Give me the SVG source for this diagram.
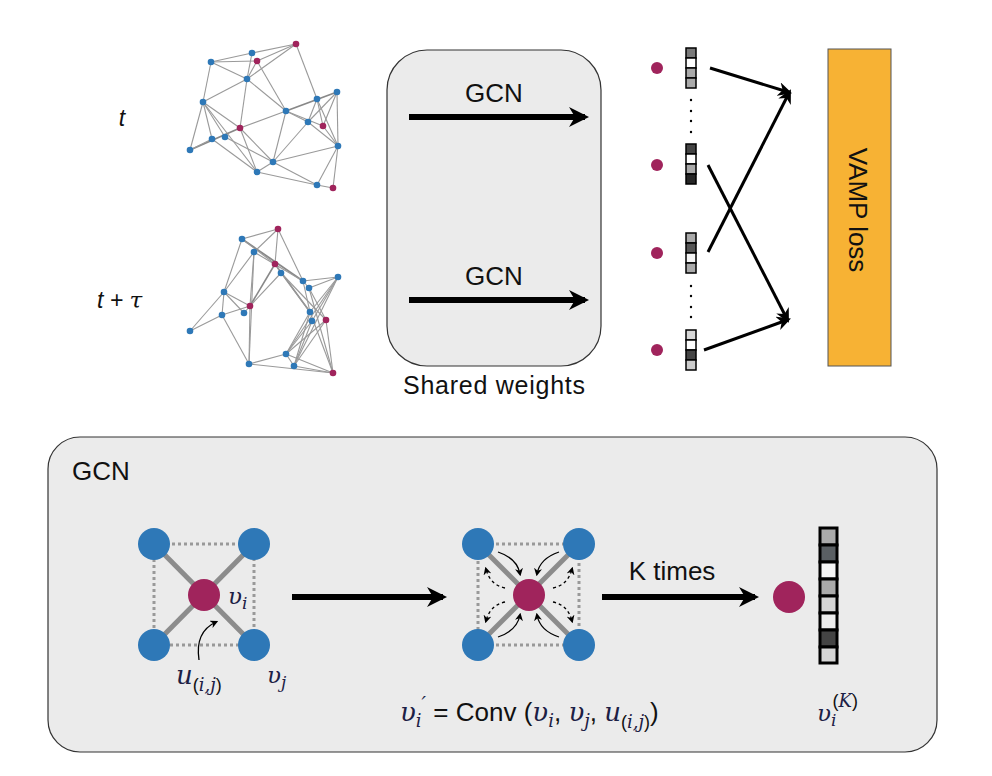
<svg xmlns="http://www.w3.org/2000/svg" width="992" height="776" viewBox="0 0 992 776">
<defs>
<style>
.e{stroke:#9a9a9a;stroke-width:1.1;fill:none}
.b{fill:#2e78b7}
.m{fill:#a0245c}
.t{font-family:"Liberation Sans",Arial,sans-serif;fill:#111}
.math{font-family:"DejaVu Serif","Liberation Serif",serif;font-style:italic;fill:#1c2045}
.arr{stroke:#000;stroke-width:3;fill:none}
.big{stroke:#000;stroke-width:6;fill:none}
.cell{stroke:#000;stroke-width:1.5}
.cellk{stroke:#000;stroke-width:3}
</style>
<marker id="ah2" viewBox="0 0 10 10" refX="8" refY="5" markerWidth="20" markerHeight="20" orient="auto" markerUnits="userSpaceOnUse">
<path d="M0,0 L10,5 L0,10 L3,5 z" fill="#000"/>
</marker>
<marker id="ah3" viewBox="0 0 10 10" refX="7" refY="5" markerWidth="14" markerHeight="14" orient="auto" markerUnits="userSpaceOnUse">
<path d="M0,0 L10,5 L0,10 L3,5 z" fill="#000"/>
</marker>
<marker id="ahs" viewBox="0 0 10 10" refX="7" refY="5" markerWidth="8" markerHeight="8" orient="auto" markerUnits="userSpaceOnUse">
<path d="M0,0 L10,5 L0,10 L3,5 z" fill="#000"/>
</marker>
</defs>
<rect width="992" height="776" fill="#fff"/>

<!-- Graph t -->
<g id="graph-t">
<g class="e">
<line x1="211" y1="62" x2="252" y2="53"/><line x1="252" y1="53" x2="296" y2="44"/>
<line x1="211" y1="62" x2="257" y2="61"/><line x1="257" y1="61" x2="296" y2="44"/>
<line x1="247" y1="79" x2="296" y2="44"/><line x1="247" y1="79" x2="252" y2="53"/>
<line x1="247" y1="79" x2="257" y2="61"/><line x1="211" y1="62" x2="247" y2="79"/>
<line x1="257" y1="61" x2="286" y2="111"/><line x1="296" y1="44" x2="317" y2="99"/>
<line x1="211" y1="62" x2="203" y2="102"/><line x1="247" y1="79" x2="203" y2="102"/>
<line x1="247" y1="79" x2="240" y2="128"/><line x1="247" y1="79" x2="286" y2="111"/>
<line x1="203" y1="102" x2="190" y2="150"/><line x1="203" y1="102" x2="212" y2="139"/>
<line x1="203" y1="102" x2="225" y2="137"/><line x1="203" y1="102" x2="240" y2="128"/>
<line x1="203" y1="102" x2="257" y2="172"/>
<line x1="190" y1="150" x2="240" y2="128" style="stroke-width:1.8;stroke:#888"/>
<line x1="190" y1="150" x2="212" y2="139"/>
<line x1="240" y1="128" x2="286" y2="111"/><line x1="240" y1="128" x2="257" y2="172"/>
<line x1="240" y1="128" x2="273" y2="162"/><line x1="212" y1="139" x2="257" y2="172"/>
<line x1="225" y1="137" x2="273" y2="162"/><line x1="286" y1="111" x2="273" y2="162"/>
<line x1="286" y1="111" x2="337" y2="92" style="stroke-width:1.8;stroke:#888"/>
<line x1="286" y1="111" x2="323" y2="126"/><line x1="286" y1="111" x2="308" y2="122"/>
<line x1="317" y1="99" x2="308" y2="122"/><line x1="317" y1="99" x2="323" y2="126"/>
<line x1="317" y1="99" x2="338" y2="146"/><line x1="337" y1="92" x2="308" y2="122"/>
<line x1="337" y1="92" x2="323" y2="126"/><line x1="337" y1="92" x2="338" y2="146"/>
<line x1="308" y1="122" x2="273" y2="162"/><line x1="308" y1="122" x2="338" y2="146"/>
<line x1="323" y1="126" x2="338" y2="146"/><line x1="338" y1="146" x2="273" y2="162"/>
<line x1="338" y1="146" x2="317" y2="185"/><line x1="338" y1="146" x2="333" y2="188"/>
<line x1="257" y1="172" x2="317" y2="185"/><line x1="273" y1="162" x2="317" y2="185"/>
<line x1="317" y1="185" x2="333" y2="188"/><line x1="257" y1="172" x2="273" y2="162"/>
</g>
<circle class="m" cx="296" cy="44" r="3.3"/><circle class="b" cx="252" cy="53" r="3.3"/>
<circle class="m" cx="257" cy="61" r="3.3"/><circle class="b" cx="211" cy="62" r="3.3"/>
<circle class="b" cx="247" cy="79" r="3.3"/><circle class="b" cx="203" cy="102" r="3.3"/>
<circle class="b" cx="317" cy="99" r="3.3"/><circle class="b" cx="337" cy="92" r="3.3"/>
<circle class="b" cx="286" cy="111" r="3.3"/><circle class="b" cx="308" cy="122" r="3.3"/>
<circle class="m" cx="323" cy="126" r="3.3"/><circle class="m" cx="240" cy="128" r="3.3"/>
<circle class="b" cx="212" cy="139" r="3.3"/><circle class="b" cx="225" cy="137" r="3.3"/>
<circle class="b" cx="190" cy="150" r="3.3"/><circle class="b" cx="338" cy="146" r="3.3"/>
<circle class="b" cx="273" cy="162" r="3.3"/><circle class="b" cx="257" cy="172" r="3.3"/>
<circle class="b" cx="317" cy="185" r="3.3"/><circle class="m" cx="333" cy="188" r="3.3"/>
</g>

<!-- Graph t+tau -->
<g id="graph-ttau">
<g class="e">
<line x1="242" y1="239" x2="278" y2="229"/><line x1="242" y1="239" x2="224" y2="292"/>
<line x1="242" y1="239" x2="303" y2="281" style="stroke-width:1.8;stroke:#888"/>
<line x1="242" y1="239" x2="275" y2="264"/><line x1="254" y1="252" x2="278" y2="229"/>
<line x1="254" y1="252" x2="224" y2="292"/><line x1="254" y1="252" x2="250" y2="306"/>
<line x1="254" y1="252" x2="249" y2="364"/><line x1="254" y1="252" x2="303" y2="281"/>
<line x1="278" y1="229" x2="275" y2="264"/><line x1="278" y1="229" x2="303" y2="281"/>
<line x1="275" y1="264" x2="250" y2="306" style="stroke-width:1.6;stroke:#888"/>
<line x1="275" y1="264" x2="310" y2="312" style="stroke-width:1.6;stroke:#888"/>
<line x1="275" y1="264" x2="281" y2="273"/><line x1="281" y1="273" x2="250" y2="306"/>
<line x1="281" y1="273" x2="310" y2="312"/><line x1="281" y1="273" x2="326" y2="320"/>
<line x1="303" y1="281" x2="338" y2="277"/><line x1="303" y1="281" x2="310" y2="312"/>
<line x1="309" y1="288" x2="338" y2="277"/><line x1="309" y1="288" x2="326" y2="320"/>
<line x1="309" y1="288" x2="333" y2="373"/><line x1="338" y1="277" x2="310" y2="312"/>
<line x1="338" y1="277" x2="312" y2="321"/><line x1="338" y1="277" x2="294" y2="366"/>
<line x1="338" y1="277" x2="286" y2="354"/><line x1="224" y1="292" x2="250" y2="306"/>
<line x1="224" y1="292" x2="244" y2="313"/><line x1="224" y1="292" x2="222" y2="315"/>
<line x1="224" y1="292" x2="190" y2="331"/><line x1="222" y1="315" x2="190" y2="331"/>
<line x1="222" y1="315" x2="250" y2="306"/><line x1="222" y1="315" x2="249" y2="364"/>
<line x1="244" y1="313" x2="250" y2="306"/><line x1="250" y1="306" x2="249" y2="364"/>
<line x1="310" y1="312" x2="286" y2="354"/><line x1="310" y1="312" x2="294" y2="366"/>
<line x1="312" y1="321" x2="286" y2="354"/><line x1="312" y1="321" x2="294" y2="366"/>
<line x1="326" y1="320" x2="286" y2="354"/><line x1="326" y1="320" x2="294" y2="366"/>
<line x1="326" y1="320" x2="333" y2="373"/><line x1="310" y1="312" x2="333" y2="373"/>
<line x1="249" y1="364" x2="286" y2="354"/><line x1="249" y1="364" x2="333" y2="373"/>
<line x1="286" y1="354" x2="333" y2="373"/><line x1="294" y1="366" x2="333" y2="373"/>
<line x1="286" y1="354" x2="294" y2="366"/><line x1="303" y1="281" x2="309" y2="288"/>
</g>
<circle class="m" cx="278" cy="229" r="3.3"/><circle class="b" cx="242" cy="239" r="3.3"/>
<circle class="b" cx="254" cy="252" r="3.3"/><circle class="m" cx="275" cy="264" r="3.3"/>
<circle class="b" cx="281" cy="273" r="3.3"/><circle class="b" cx="303" cy="281" r="3.3"/>
<circle class="b" cx="309" cy="288" r="3.3"/><circle class="b" cx="338" cy="277" r="3.3"/>
<circle class="b" cx="224" cy="292" r="3.3"/><circle class="m" cx="250" cy="306" r="3.3"/>
<circle class="b" cx="222" cy="315" r="3.3"/><circle class="b" cx="244" cy="313" r="3.3"/>
<circle class="b" cx="310" cy="312" r="3.3"/><circle class="b" cx="312" cy="321" r="3.3"/>
<circle class="m" cx="326" cy="320" r="3.3"/><circle class="b" cx="190" cy="331" r="3.3"/>
<circle class="b" cx="286" cy="354" r="3.3"/><circle class="b" cx="249" cy="364" r="3.3"/>
<circle class="b" cx="294" cy="366" r="3.3"/><circle class="m" cx="333" cy="373" r="3.3"/>
</g>

<g id="labels-time">
<text class="t" x="122" y="126" font-size="23" font-style="italic" text-anchor="middle">t</text>
<text class="t" x="97" y="308" font-size="23" font-style="italic">t + <tspan font-family="DejaVu Serif,serif">τ</tspan></text>
</g>

<g id="shared">
<rect x="387" y="50" width="214" height="316" rx="40" fill="#ebebeb" stroke="#333" stroke-width="1.2"/>
<text class="t" x="494" y="102" font-size="26" text-anchor="middle">GCN</text>
<text class="t" x="494" y="285" font-size="26" text-anchor="middle">GCN</text>
<text class="t" x="494" y="394" font-size="25" text-anchor="middle" textLength="182">Shared weights</text>
</g>

<g id="embeddings">
<circle class="m" cx="657" cy="68" r="6"/>
<circle class="m" cx="657" cy="165" r="6"/>
<circle class="m" cx="657" cy="253" r="6"/>
<circle class="m" cx="657" cy="350" r="6"/>
<g class="cell">
<rect x="686" y="48" width="10" height="10" fill="#7a7a7a"/><rect x="686" y="58" width="10" height="10" fill="#fff"/>
<rect x="686" y="68" width="10" height="10" fill="#aaa"/><rect x="686" y="78" width="10" height="10" fill="#aaa"/>
<rect x="686" y="144" width="10" height="10" fill="#444"/><rect x="686" y="154" width="10" height="10" fill="#fff"/>
<rect x="686" y="164" width="10" height="10" fill="#aaa"/><rect x="686" y="174" width="10" height="10" fill="#262626"/>
<rect x="686" y="233" width="10" height="10" fill="#aaa"/><rect x="686" y="243" width="10" height="10" fill="#555"/>
<rect x="686" y="253" width="10" height="10" fill="#f5f5f5"/><rect x="686" y="263" width="10" height="10" fill="#aaa"/>
<rect x="686" y="330" width="10" height="10" fill="#d8d8d8"/><rect x="686" y="340" width="10" height="10" fill="#fff"/>
<rect x="686" y="350" width="10" height="10" fill="#444"/><rect x="686" y="360" width="10" height="10" fill="#ccc"/>
</g>
<g fill="#000">
<circle cx="691" cy="100" r="1.2"/><circle cx="691" cy="111" r="1.2"/><circle cx="691" cy="121" r="1.2"/><circle cx="691" cy="132" r="1.2"/>
<circle cx="691" cy="286" r="1.2"/><circle cx="691" cy="296" r="1.2"/><circle cx="691" cy="307" r="1.2"/><circle cx="691" cy="317" r="1.2"/>
</g>
</g>

<g id="vamp">
<rect x="828" y="49" width="63" height="317" fill="#f7b234" stroke="#555" stroke-width="1"/>
<text class="t" x="0" y="0" font-size="26" text-anchor="middle" transform="translate(849,210) rotate(90)">VAMP loss</text>
</g>

<g id="gcn-box">
<rect x="48" y="437" width="889" height="315" rx="32" fill="#ebebeb" stroke="#333" stroke-width="1.2"/>
<text class="t" x="72" y="480" font-size="26">GCN</text>
</g>

<g id="graph-small-1">
<rect x="154" y="544" width="100" height="101" fill="none" stroke="#999" stroke-width="3" stroke-dasharray="3,3"/>
<line x1="154" y1="544" x2="254" y2="645" stroke="#8c8c8c" stroke-width="5"/>
<line x1="254" y1="544" x2="154" y2="645" stroke="#8c8c8c" stroke-width="5"/>
<circle class="b" cx="154" cy="544" r="16"/><circle class="b" cx="254" cy="544" r="16"/>
<circle class="b" cx="154" cy="645" r="16"/><circle class="b" cx="254" cy="645" r="16"/>
<circle class="m" cx="204" cy="595" r="16"/>
<path d="M199,660 C196,640 203,628 216,622" fill="none" stroke="#000" stroke-width="1.3" marker-end="url(#ahs)"/>
<text class="math" x="228" y="604" font-size="23">υ<tspan font-size="17" dy="5">i</tspan></text>
<text class="math" x="176" y="684" font-size="26">u<tspan class="t" font-size="18" dy="7" font-style="normal">(</tspan><tspan font-size="18">i,j</tspan><tspan class="t" font-size="18" font-style="normal">)</tspan></text>
<text class="math" x="267" y="683" font-size="23">υ<tspan font-size="17" dy="5">j</tspan></text>
</g>

<g id="graph-small-2">
<rect x="478" y="544" width="101" height="101" fill="none" stroke="#999" stroke-width="3" stroke-dasharray="3,3"/>
<line x1="478" y1="544" x2="579" y2="645" stroke="#8c8c8c" stroke-width="5"/>
<line x1="579" y1="544" x2="478" y2="645" stroke="#8c8c8c" stroke-width="5"/>
<g fill="none" stroke="#000" stroke-width="1.3">
<path d="M498,552 C510,556 518,563 520,574" marker-end="url(#ahs)"/>
<path d="M559,552 C547,556 539,563 537,574" marker-end="url(#ahs)"/>
<path d="M498,637 C510,633 518,626 520,615" marker-end="url(#ahs)"/>
<path d="M559,637 C547,633 539,626 537,615" marker-end="url(#ahs)"/>
</g>
<g fill="none" stroke="#000" stroke-width="1.3" stroke-dasharray="3,3">
<path d="M505,588 C495,586 489,580 486,569" marker-end="url(#ahs)"/>
<path d="M553,588 C563,586 569,580 572,569" marker-end="url(#ahs)"/>
<path d="M505,602 C495,604 489,610 486,621" marker-end="url(#ahs)"/>
<path d="M553,602 C563,604 569,610 572,621" marker-end="url(#ahs)"/>
</g>
<circle class="b" cx="478" cy="544" r="16"/><circle class="b" cx="579" cy="544" r="16"/>
<circle class="b" cx="478" cy="645" r="16"/><circle class="b" cx="579" cy="645" r="16"/>
<circle class="m" cx="529" cy="595" r="16"/>
<text class="t" x="672" y="580" font-size="26" text-anchor="middle">K times</text>
<text x="400" y="721" font-size="26"><tspan class="math">υ</tspan><tspan class="math" font-size="18" dy="6">i</tspan><tspan class="math" font-size="20" dx="0" dy="-16">′</tspan><tspan class="t" dy="10"> = Conv (</tspan><tspan class="math">υ</tspan><tspan class="math" font-size="18" dy="6">i</tspan><tspan class="t" dy="-6">, </tspan><tspan class="math">υ</tspan><tspan class="math" font-size="18" dy="6">j</tspan><tspan class="t" dy="-6">, </tspan><tspan class="math">u</tspan><tspan class="t" font-size="18" dy="7">(</tspan><tspan class="math" font-size="18">i,j</tspan><tspan class="t" font-size="18">)</tspan><tspan class="t" dy="-7">)</tspan></text>
</g>

<g id="output-node">
<circle class="m" cx="789" cy="597" r="16"/>
<g class="cellk">
<rect x="820" y="528" width="17" height="17" fill="#aaa"/>
<rect x="820" y="545" width="17" height="17" fill="#5a5f63"/>
<rect x="820" y="562" width="17" height="17" fill="#f5f5f5"/>
<rect x="820" y="579" width="17" height="17" fill="#aaa"/>
<rect x="820" y="596" width="17" height="17" fill="#d5d5d5"/>
<rect x="820" y="613" width="17" height="17" fill="#eee"/>
<rect x="820" y="630" width="17" height="17" fill="#444"/>
<rect x="820" y="647" width="17" height="16" fill="#d5d5d5"/>
</g>
<text class="math" x="817" y="721" font-size="23">υ<tspan font-size="17" dy="5">i</tspan><tspan class="t" font-size="18" dx="-4" dy="-19" font-style="normal">(</tspan><tspan font-size="18">K</tspan><tspan class="t" font-size="18" font-style="normal">)</tspan></text>
</g>

<g id="connectors">
<line class="big" x1="409" y1="117" x2="585" y2="117" marker-end="url(#ah2)"/>
<line class="big" x1="409" y1="300" x2="585" y2="300" marker-end="url(#ah2)"/>
<line class="arr" x1="710" y1="68" x2="788" y2="92" marker-end="url(#ah3)"/>
<line class="arr" x1="708" y1="252" x2="789" y2="93" marker-end="url(#ah3)"/>
<line class="arr" x1="708" y1="165" x2="787" y2="319" marker-end="url(#ah3)"/>
<line class="arr" x1="704" y1="350" x2="787" y2="320" marker-end="url(#ah3)"/>
<line class="big" x1="292" y1="597" x2="443" y2="597" marker-end="url(#ah2)"/>
<line class="big" x1="602" y1="597" x2="755" y2="597" marker-end="url(#ah2)"/>
</g>
</svg>
